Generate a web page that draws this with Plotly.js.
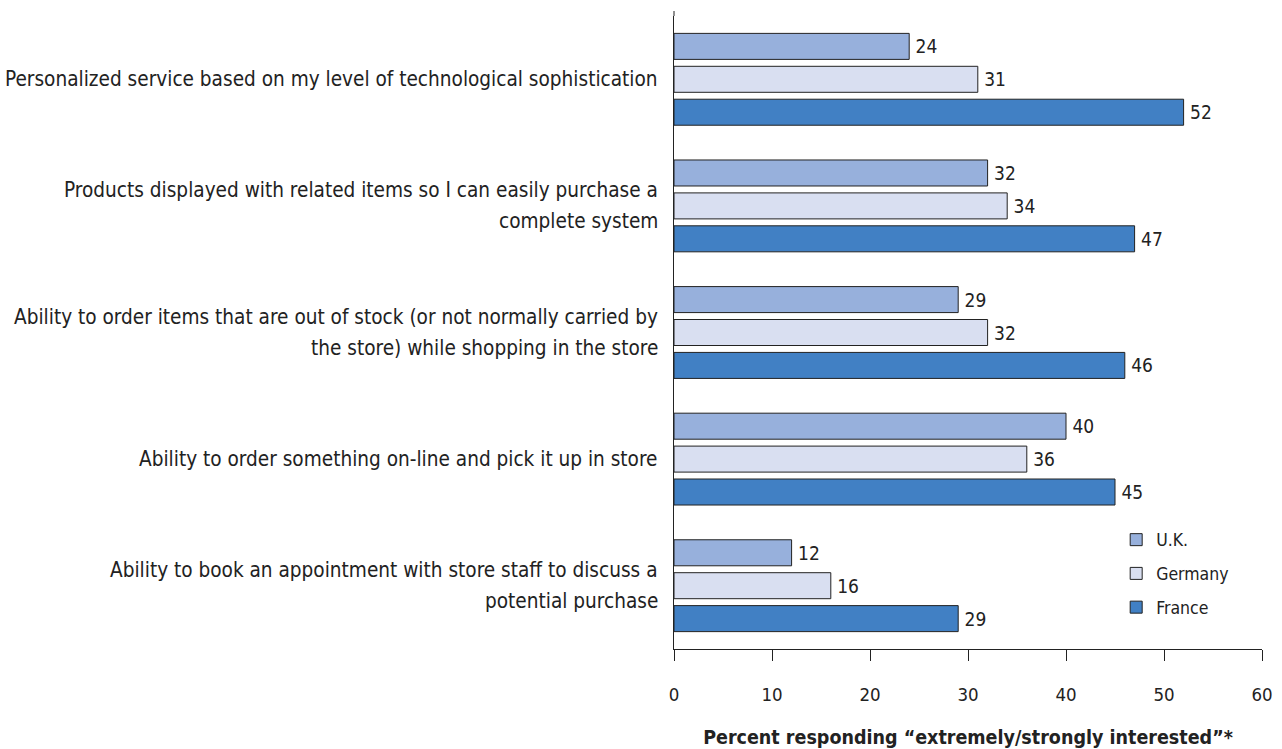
<!DOCTYPE html>
<html>
<head>
<meta charset="utf-8">
<script src="https://cdn.plot.ly/plotly-3.0.1.min.js"></script>
<style>html,body{margin:0;padding:0;background:#fff;}#chart{width:1282px;height:749px;}</style>
</head>
<body>
<div id="chart"></div>
<script>
const categories = [
  "Personalized service based on my level of technological sophistication",
  "Products displayed with related items so I can easily purchase a<br>complete system",
  "Ability to order items that are out of stock (or not normally carried by<br>the store) while shopping in the store",
  "Ability to order something on-line and pick it up in store",
  "Ability to book an appointment with store staff to discuss a<br>potential purchase"
];
const seriesNames = ["U.K.", "Germany", "France"];
const ukValues = [24, 32, 29, 40, 12];
const germanyValues = [31, 34, 32, 36, 16];
const franceValues = [52, 47, 46, 45, 29];
const xTicks = [0, 10, 20, 30, 40, 50, 60];
const xTitle = "Percent responding \u201cextremely/strongly interested\u201d*";

const FONT = "'Liberation Sans Narrow', 'DejaVu Sans Condensed', 'Arial Narrow', sans-serif";
const colors = ["#97b0dc", "#d9dff1", "#4180c4"];
const values = [ukValues, germanyValues, franceValues];

const data = values.map((v, i) => ({
  type: "bar",
  orientation: "h",
  name: seriesNames[i],
  legendgroup: "g" + i,
  x: v,
  y: categories,
  text: v.map(n => "\u2009" + n),
  textposition: "outside",
  cliponaxis: false,
  textfont: {family: FONT, size: 19, color: "#222"},
  marker: {color: colors[i], line: {color: "#222", width: 1}},
  hoverinfo: "x+name"
}));

// category labels as annotations (to control line spacing)
const annotations = [];
categories.forEach(c => {
  const lines = c.split("<br>");
  const n = lines.length;
  lines.forEach((ln, k) => {
    annotations.push({
      xref: "paper", yref: "y", x: 0, y: c,
      xanchor: "right", yanchor: "middle",
      xshift: -14, yshift: ((n - 1) / 2 - k) * 31,
      text: ln, showarrow: false,
      font: {family: FONT, size: 20.6, color: "#222"}
    });
  });
});

const layout = {
  width: 1282, height: 749,
  margin: {l: 674, r: 20, t: 16, b: 100},
  paper_bgcolor: "#fff", plot_bgcolor: "#fff",
  barmode: "group",
  bargap: 0.22,
  bargroupgap: 0.21,
  showlegend: true,
  legend: {
    x: 0.752, y: 0.201, xanchor: "left", yanchor: "top",
    font: {family: FONT, size: 17.5, color: "#222"},
    traceorder: "grouped",
    tracegroupgap: 8,
    bgcolor: "rgba(0,0,0,0)"
  },
  xaxis: {
    range: [0, 60],
    tickvals: xTicks,
    ticktext: xTicks.map(String),
    ticks: "outside", ticklen: 11, tickcolor: "#222", tickwidth: 1,
    showline: true, linecolor: "#222", linewidth: 1,
    showgrid: false, zeroline: false,
    ticklabelstandoff: 18,
    tickfont: {family: FONT, size: 18.5, color: "#222"},
    title: {text: "<b>" + xTitle + "</b>", font: {family: FONT, size: 19.5, color: "#222"}, standoff: 26}
  },
  yaxis: {
    type: "category",
    autorange: "reversed",
    showticklabels: false,
    ticks: "",
    showline: true, linecolor: "#222", linewidth: 1,
    showgrid: false, zeroline: false
  },
  shapes: [{
    type: "line", xref: "paper", yref: "paper",
    x0: 0, x1: 0, ysizemode: "pixel", yanchor: 1, y0: 0, y1: 5,
    line: {color: "#222", width: 1}
  }],
  annotations: annotations
};

Plotly.newPlot("chart", data, layout, {displayModeBar: false, staticPlot: true});
</script>
</body>
</html>
